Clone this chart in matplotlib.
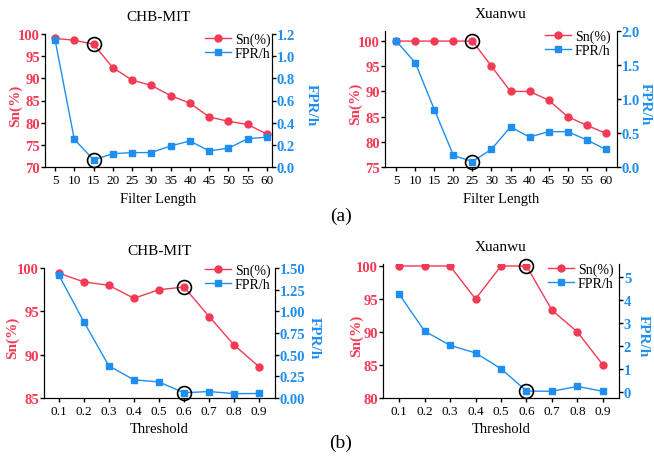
import numpy as np
import matplotlib
matplotlib.use("Agg")
from matplotlib import pyplot as plt

plt.rcParams['font.family'] = ['Liberation Serif', 'DejaVu Serif']

RED = '#F23A55'
BLUE = '#1E8FF0'
W, H = 654.0, 460.0

filter_len = [5, 10, 15, 20, 25, 30, 35, 40, 45, 50, 55, 60]
chb_sn_fl = [99.0, 98.6, 97.7, 92.4, 89.6, 88.4, 86.1, 84.4, 81.3, 80.3, 79.6, 77.4]
chb_fpr_fl = [1.15, 0.25, 0.065, 0.12, 0.13, 0.13, 0.19, 0.235, 0.145, 0.17, 0.255, 0.27]
xw_sn_fl = [100, 100, 100, 100, 100, 95.0, 90.0, 90.0, 88.3, 85.0, 83.3, 81.7]
xw_fpr_fl = [1.85, 1.53, 0.84, 0.17, 0.08, 0.26, 0.59, 0.44, 0.52, 0.52, 0.40, 0.26]

threshold = [0.1, 0.2, 0.3, 0.4, 0.5, 0.6, 0.7, 0.8, 0.9]
chb_sn_th = [99.4, 98.4, 98.0, 96.5, 97.5, 97.8, 94.4, 91.1, 88.6]
chb_fpr_th = [1.42, 0.88, 0.37, 0.21, 0.185, 0.06, 0.075, 0.05, 0.052]
xw_sn_th = [100, 100, 100, 95.0, 100, 100, 93.3, 90.0, 85.0]
xw_fpr_th = [4.25, 2.65, 2.03, 1.70, 1.02, 0.05, 0.04, 0.25, 0.04]


def panel(fig, rect, title, x, sn, fpr, xlabel, xlim, ylim1, yt1, ylim2, yt2, yfmt, best,
          lab_x, leg_xy):
    l, r, t, b = rect
    ax = fig.add_axes([l / W, 1 - b / H, (r - l) / W, (b - t) / H])
    ax2 = ax.twinx()
    l1, = ax.plot(x, sn, '-o', color=RED, ms=5, lw=1.0, label='Sn(%)', zorder=3)
    l2, = ax2.plot(x, fpr, '-s', color=BLUE, ms=5, lw=1.0, label='FPR/h', zorder=3)
    i = x.index(best)
    ax.plot([x[i]], [sn[i]], 'o', mfc='none', mec='black', ms=10, mew=1.2, zorder=4,
            clip_on=False)
    ax2.plot([x[i]], [fpr[i]], 'o', mfc='none', mec='black', ms=10, mew=1.2, zorder=4,
             clip_on=False)

    ax.set_xlim(*xlim)
    ax.set_xticks(x)
    ax.set_ylim(*ylim1)
    ax.set_yticks(yt1)
    ax2.set_ylim(*ylim2)
    ax2.set_yticks(yt2)
    ax2.set_yticklabels([yfmt.format(v) for v in yt2])

    for a in (ax, ax2):
        a.spines['top'].set_visible(False)
        a.tick_params(direction='out', length=3, width=1)
    ax.tick_params(axis='x', labelsize=9.5, pad=2)
    ax.tick_params(axis='y', labelsize=10.5, labelcolor=RED, pad=0.5)
    ax2.tick_params(axis='y', labelsize=10.5, labelcolor=BLUE, pad=0.5)
    for lab in ax.get_yticklabels() + ax2.get_yticklabels():
        lab.set_fontweight('bold')

    ax.set_title(title, fontsize=11, pad=10)
    ax.set_xlabel(xlabel, fontsize=10.5, labelpad=4)
    ax.set_ylabel('Sn(%)', color=RED, fontsize=11, fontweight='bold')
    ax2.set_ylabel('FPR/h', color=BLUE, fontsize=11, fontweight='bold', rotation=270,
                   va='center')
    # left label: coordinate is the right edge of the rotated text
    ax.yaxis.set_label_coords((lab_x[0] - l) / (r - l), 0.47)
    ax2.yaxis.set_label_coords((lab_x[1] - l) / (r - l), 0.47)

    ax2.legend([l1, l2], ['Sn(%)', 'FPR/h'], loc='upper right', frameon=False,
               fontsize=10, handlelength=1.9, handletextpad=0.25, borderpad=0.1,
               borderaxespad=0, labelspacing=0.05,
               bbox_to_anchor=(leg_xy[0] / W, 1 - leg_xy[1] / H),
               bbox_transform=fig.transFigure)
    return ax


fig = plt.figure(figsize=(6.54, 4.6), dpi=100)

panel(fig, (45, 272, 35, 168), 'CHB-MIT', filter_len, chb_sn_fl, chb_fpr_fl, 'Filter Length',
      (2.4, 61.3), (70, 100), [70, 75, 80, 85, 90, 95, 100],
      (0, 1.2), [0.0, 0.2, 0.4, 0.6, 0.8, 1.0, 1.2], '{:.1f}', 15,
      (22, 311), (272, 32))
panel(fig, (385, 617, 32, 168), 'Xuanwu', filter_len, xw_sn_fl, xw_fpr_fl, 'Filter Length',
      (2.0, 63.0), (75, 102), [75, 80, 85, 90, 95, 100],
      (0, 2.0), [0.0, 0.5, 1.0, 1.5, 2.0], '{:.1f}', 25,
      (362, 645), (612, 29))
panel(fig, (44, 275, 269, 399), 'CHB-MIT', threshold, chb_sn_th, chb_fpr_th, 'Threshold',
      (0.041, 0.963), (85, 100), [85, 90, 95, 100],
      (0, 1.5), [0.0, 0.25, 0.5, 0.75, 1.0, 1.25, 1.5], '{:.2f}', 0.6,
      (19, 314), (272, 263))
panel(fig, (383, 619, 265, 399), 'Xuanwu', threshold, xw_sn_th, xw_fpr_th, 'Threshold',
      (0.037, 0.963), (80, 100.3), [80, 85, 90, 95, 100],
      (-0.25, 5.55), [0, 1, 2, 3, 4, 5], '{:d}', 0.6,
      (363, 643), (615, 262))

fig.text(341 / W, 1 - 216 / H, '(a)', fontsize=14, ha='center', va='center')
fig.text(341 / W, 1 - 443 / H, '(b)', fontsize=14, ha='center', va='center')

fig.savefig('out.png', dpi=100)
